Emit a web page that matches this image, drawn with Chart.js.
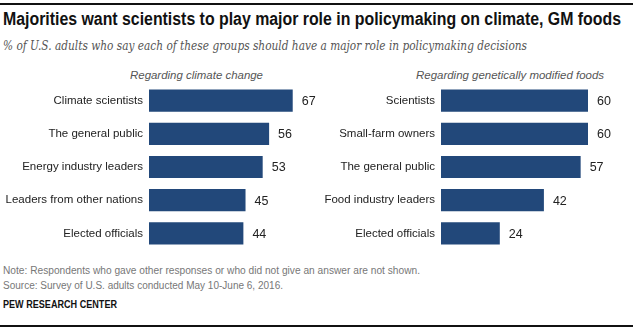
<!DOCTYPE html>
<html>
<head>
<meta charset="utf-8">
<script src="https://cdn.jsdelivr.net/npm/chart.js@4/dist/chart.umd.min.js"></script>
<style>
  html, body { margin: 0; padding: 0; background: #fff; }
  #wrap { position: relative; width: 640px; height: 332px; overflow: hidden; font-family: "Liberation Sans", Arial, sans-serif; }
  .t { position: absolute; white-space: nowrap; transform-origin: 0 50%; line-height: 1; }
  .rule { position: absolute; left: 0; width: 633px; height: 2px; background: #111; }
  .panel { position: absolute; top: 84px; width: 320px; height: 166px; }
</style>
</head>
<body>
<div id="wrap">
  <div class="rule" style="top:3px"></div>
  <div class="t" data-w="618" style="left:3px;top:10px;font-size:18px;font-weight:bold;color:#111">Majorities want scientists to play major role in policymaking on climate, GM foods</div>
  <div class="t" data-w="524" style="left:3px;top:39px;font-size:13px;font-style:italic;color:#555;font-family:'DejaVu Serif','Liberation Serif',serif">% of U.S. adults who say each of these groups should have a major role in policymaking decisions</div>
  <div class="t" data-w="133" style="left:130px;top:70px;font-size:11px;font-style:italic;color:#555">Regarding climate change</div>
  <div class="t" data-w="188" style="left:416px;top:70px;font-size:11px;font-style:italic;color:#555">Regarding genetically modified foods</div>

  <div class="panel" style="left:0"><canvas id="left"></canvas></div>
  <div class="panel" style="left:320px"><canvas id="right"></canvas></div>

  <div class="t" data-w="417" style="left:3px;top:266px;font-size:10px;color:#777">Note: Respondents who gave other responses or who did not give an answer are not shown.</div>
  <div class="t" data-w="280" style="left:3px;top:281px;font-size:10px;color:#777">Source: Survey of U.S. adults conducted May 10-June 6, 2016.</div>
  <div class="t" data-w="114" style="left:3px;top:300px;font-size:10px;font-weight:bold;color:#111">PEW RESEARCH CENTER</div>
  <div class="rule" style="top:325px"></div>
</div>
<script>
// climate change panel
const climateGroups = ["Climate scientists", "The general public", "Energy industry leaders", "Leaders from other nations", "Elected officials"];
const climateValues = [67, 56, 53, 45, 44];

// GM foods panel
const gmGroups = ["Scientists", "Small-farm owners", "The general public", "Food industry leaders", "Elected officials"];
const gmValues = [60, 60, 57, 42, 24];

const barColor = "#22487a";

// squeeze text to the width it has in the original
document.querySelectorAll(".t[data-w]").forEach(el => {
  const w = el.getBoundingClientRect().width;
  el.style.transform = "scaleX(" + (parseFloat(el.dataset.w) / w) + ")";
});

const valueLabels = {
  id: "valueLabels",
  afterDatasetsDraw(chart) {
    const ctx = chart.ctx;
    const meta = chart.getDatasetMeta(0);
    ctx.save();
    ctx.font = "12.5px 'Liberation Sans', Arial, sans-serif";
    ctx.fillStyle = "#222";
    ctx.textAlign = "left";
    ctx.textBaseline = "middle";
    meta.data.forEach((bar, i) => {
      ctx.fillText(chart.data.datasets[0].data[i], bar.x + 9, bar.y + 1);
    });
    ctx.restore();
  }
};

function makeChart(id, labels, values, axisWidth, xMax, padRight) {
  return new Chart(document.getElementById(id), {
    type: "bar",
    data: {
      labels: labels,
      datasets: [{ data: values, backgroundColor: barColor, barPercentage: 0.67, categoryPercentage: 1 }]
    },
    options: {
      indexAxis: "y",
      responsive: true,
      maintainAspectRatio: false,
      animation: false,
      layout: { padding: { top: 0, bottom: 0, left: 0, right: padRight } },
      scales: {
        x: { display: false, min: 0, max: xMax },
        y: {
          grid: { display: false, drawTicks: false },
          border: { display: false },
          ticks: { color: "#222", font: { size: 11.5, family: "'Liberation Sans', Arial, sans-serif" }, padding: 6 },
          afterFit: (s) => { s.width = axisWidth; s.paddingTop = 0; s.paddingBottom = 0; }
        }
      },
      plugins: { legend: { display: false }, tooltip: { enabled: false } }
    },
    plugins: [valueLabels]
  });
}

makeChart("left", climateGroups, climateValues, 149, 75, 320 - 149 - 75 * 2.145);
makeChart("right", gmGroups, gmValues, 121, 70, 320 - 121 - 70 * 2.45);
</script>
</body>
</html>
